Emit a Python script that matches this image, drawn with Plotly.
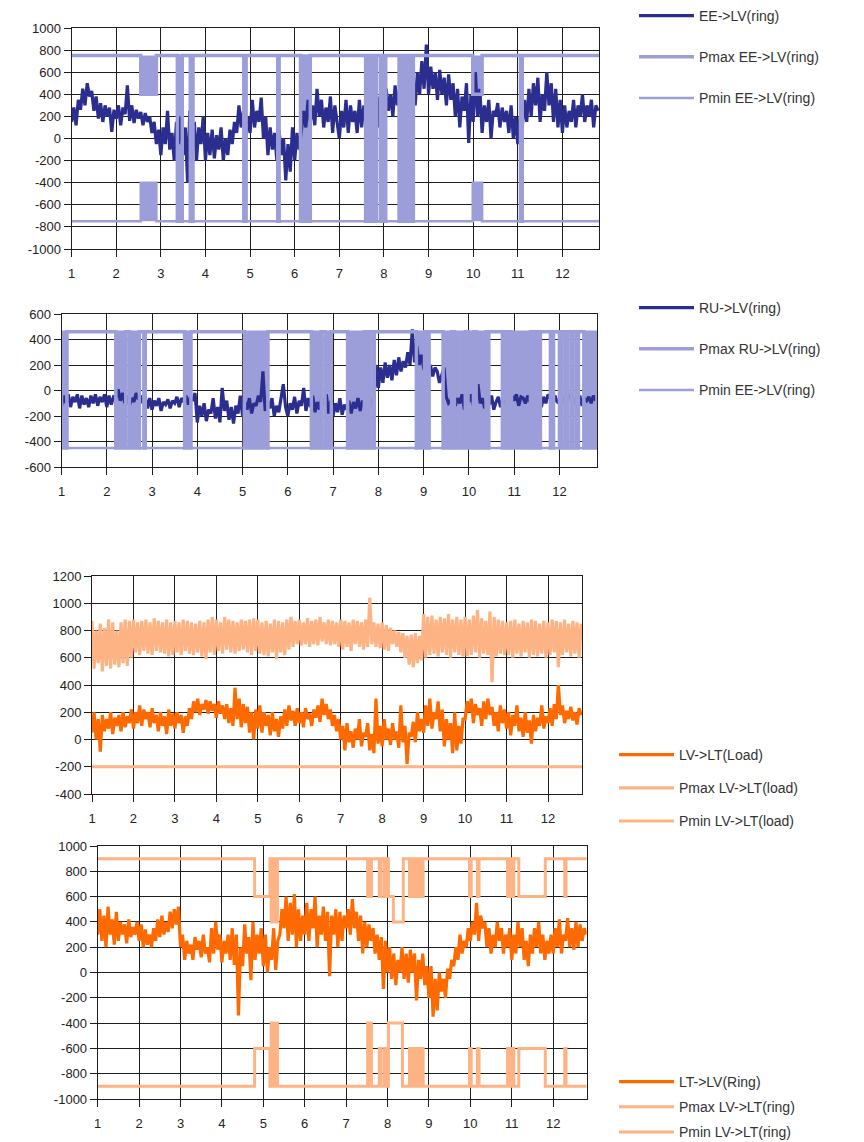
import numpy as np
import plotly.graph_objects as go

# ---------------- DATA ----------------
STEP = 0.05  # sampling interval of the noisy series (units on x)

# Panel 1: EE->LV (ring)
ee_lv = [
    150, 280, 120, 350, 260, 450, 300, 500, 380, 430, 250, 380, 180, 320, 150, 300, 200, 280, 60, 260,
    180, 300, 120, 280, 220, 480, 160, 300, 140, 260, 180, 240, 120, 230, 150, 200, 50, 150, -50, 80,
    -150, 100, -50, 250, -100, 50, -200, 150, -50, 200, -150, 100, -400, 250, -100, 150, -200, 100, -50, 200,
    -200, 50, -150, 80, -180, 30, -100, 100, -200, 0, -150, 80, -50, 150, 50, 300, 100, 250, 0, 200,
    50, 350, 100, 250, 150, 370, 0, 200, -150, 100, -100, 50, -200, 80, -150, 0, -380, -50, -300, 100,
    -200, 50, -100, 100, 250, 100, 350, 150, 300, 120, 450, 200, 350, 100, 280, 150, 380, 50, 300, 150,
    0, 250, 100, 350, 50, 300, 150, 250, 50, 350, 100, 300, 150, 400, 120, 300, 200, 380, 100, 350,
    200, 450, 250, 400, 200, 480, 300, 450, 250, 420, 350, 500, 400, 550, 300, 600, 400, 700, 450, 850,
    400, 650, 450, 600, 350, 620, 400, 550, 300, 580, 350, 500, 200, 450, 100, 380, 250, 500, -40, 400,
    150, 600, 200, 450, 50, 300, 150, 350, 0, 250, 200, 320, 100, 280, 150, 250, 50, 300, 0, 200,
    -50, 200, 100, 350, 150, 450, 200, 500, 300, 550, 150, 400, 250, 600, 300, 500, 150, 450, 100, 350,
    50, 300, 100, 250, 150, 350, 100, 300, 200, 400, 150, 300, 200, 350, 100, 300, 250,
]
# Limit toggling intervals for panel 1 (start, end, Pmax level inside, Pmin level inside)
p1_lim_start = [2.55, 3.37, 3.66, 4.86, 5.62, 6.13, 7.59, 7.65, 7.72, 7.80, 7.92, 8.00, 8.34, 8.42, 8.50, 8.62, 9.99, 11.06]
p1_lim_end = [2.90, 3.48, 3.72, 4.91, 5.65, 6.35, 7.62, 7.68, 7.76, 7.83, 7.95, 8.04, 8.37, 8.45, 8.56, 8.66, 10.20, 11.10]
p1_pmax_in = [400, -750, -750, -750, -750, -750, -750, -750, -750, -750, -750, -750, -750, -750, -750, -750, 400, -750]
p1_pmin_in = [-400, 750, 750, 750, 750, 750, 750, 750, 750, 750, 750, 750, 750, 750, 750, 750, -400, 750]
p1_pmax, p1_pmin = 750, -750

# Panel 2: RU->LV (ring)
ru_lv = [
    -120, -40, -100, -30, -130, -50, -90, -30, -140, -40, -110, -60, -130, -40, -100, -30, -120, -50, -90, -30,
    -130, -40, -110, -50, -60, 10, -80, -20, -100, -40, -120, -60, -90, -20, -70, -40, -100, -50, -140, -60,
    -150, -80, -120, -60, -160, -90, -110, -70, -140, -80, -100, -50, -130, -60, -90, -40, -110, -50, -80, -20,
    -250, -120, -200, -100, -240, -150, -180, -60, -220, -130, -250, 20, -160, -80, -230, -130, -260, -120, -180, -40,
    -200, -90, -150, -60, -180, -100, -120, -40, -90, 150, -160, -80, -140, -60, -200, -120, -170, -50, 50, -130,
    -200, -100, -150, -50, -180, -80, -120, 20, -160, -60, -130, -40, -170, -90, -150, -60, -120, -30, -180, -80,
    -200, -100, -170, -60, -190, -110, -150, -80, -180, -90, -140, -60, -160, -80, -120, -50, -150, -60, -90, 200,
    20, 180, 60, 220, 100, 200, 80, 240, 120, 260, 150, 230, 180, 300, 200, 480, 220, 350, 200, 280,
    180, 120, 140, 200, 110, 180, 150, 60, 120, 180, -50, -100, -80, -30, -120, -60, -100, -30, -150, -60,
    -90, -30, -120, -50, 50, -100, -60, -140, -70, -110, -40, -150, -90, -50, -130, -70, -100, -60, -120, -40,
    -80, -30, -120, -50, -60, -100, -40, -90, -30, 150, -80, -20, -130, -50, -100, -30, -60, -120, -40, -90,
    -100, -40, -70, -120, -50, -30, -110, -60, -90, -40, -120, -60, -80, -50, -100, -40, -80,
]
p2_lim_start = [1.00, 2.20, 2.50, 2.82, 3.72, 5.04, 6.52, 6.82, 7.32, 7.74, 7.88, 8.84, 9.08, 9.43, 9.68, 9.98,
                10.16, 10.40, 10.74, 10.86, 10.94, 11.43, 11.54, 11.80, 12.00, 12.14, 12.26, 12.38, 12.54]
p2_lim_end = [1.12, 2.42, 2.72, 2.85, 3.86, 5.56, 6.74, 6.96, 7.69, 7.80, 7.91, 9.02, 9.12, 9.62, 9.92, 10.10,
              10.38, 10.44, 10.82, 10.90, 11.36, 11.50, 11.58, 11.87, 12.06, 12.18, 12.30, 12.42, 12.83]
p2_pmax, p2_pmin = 460, -450

# Panel 3: LV->LT (Load)
lv_lt_load = [
    50, 200, 0, 150, -90, 180, 60, 150, 80, 200, 40, 160, 100, 180, 60, 200, 90, 170, 120, 220,
    80, 200, 120, 250, 100, 220, 150, 200, 90, 230, 120, 180, 60, 200, 100, 170, 40, 220, 100, 190,
    80, 200, 120, 180, 50, 170, 100, 230, 150, 280, 200, 300, 180, 260, 220, 290, 190, 280, 210, 260,
    160, 280, 190, 250, 150, 260, 120, 230, 100, 380, 150, 300, 90, 260, 120, 240, 50, 200, 0, 220,
    80, 250, 50, 200, 100, 180, 30, 200, 60, 150, 20, 170, 80, 220, 100, 250, 140, 210, 100, 230,
    120, 200, 90, 230, 150, 190, 100, 220, 160, 250, 130, 300, 180, 260, 150, 220, 100, 180, 60, 150,
    0, 100, -80, 120, -20, 60, -60, 80, 0, 150, -50, 50, 20, 120, -80, 40, -100, 300, -30, 100,
    -50, 150, 0, 80, -40, 120, 0, 60, -60, 250, -20, 100, -180, 50, 20, 130, -20, 200, 60, 150,
    50, 250, 100, 300, 80, 200, 150, 280, 60, 220, -50, 150, 0, 120, -100, 200, -80, 100, -30, 150,
    150, 280, 200, 300, 120, 260, 180, 230, 100, 280, 150, 300, 180, 240, 100, 200, 60, 250, 120, 220,
    80, 200, 30, 180, 100, 250, 60, 160, 20, 200, 50, 140, -30, 180, 60, 160, 100, 250, 80, 170,
    120, 230, 100, 260, 150, 400, 180, 250, 120, 210, 150, 240, 140, 200, 110, 230, 180,
]
pmax_lv_lt_load = [
    870, 520, 800, 560, 850, 500, 820, 540, 880, 520, 860, 550, 800, 530, 860, 560, 880, 540, 870, 600,
    880, 640, 860, 620, 870, 650, 880, 630, 860, 620, 890, 650, 870, 640, 860, 630, 880, 610, 860, 620,
    870, 640, 860, 620, 880, 650, 870, 630, 860, 620, 850, 640, 870, 610, 860, 590, 880, 640, 900, 620,
    880, 650, 860, 630, 900, 660, 880, 640, 870, 630, 860, 650, 880, 660, 870, 640, 880, 620, 890, 650,
    880, 630, 860, 620, 870, 610, 850, 640, 880, 590, 870, 640, 860, 620, 880, 660, 900, 680, 870, 700,
    880, 690, 860, 700, 890, 680, 870, 700, 880, 690, 900, 720, 860, 700, 880, 690, 870, 700, 860, 680,
    880, 660, 870, 680, 860, 650, 880, 700, 870, 680, 860, 660, 880, 680, 1040, 700, 860, 680, 850, 670,
    860, 660, 840, 650, 820, 700, 800, 680, 790, 640, 780, 600, 760, 550, 770, 530, 780, 560, 760, 580,
    920, 600, 900, 620, 910, 630, 880, 610, 900, 640, 890, 620, 920, 600, 880, 640, 900, 620, 880, 610,
    900, 610, 880, 620, 910, 640, 950, 600, 890, 630, 870, 620, 940, 420, 900, 610, 880, 630, 870, 620,
    860, 620, 870, 600, 880, 630, 850, 610, 870, 640, 860, 600, 880, 620, 870, 610, 850, 630, 870, 600,
    860, 620, 880, 640, 870, 530, 860, 620, 880, 640, 850, 610, 870, 630, 860, 600, 850,
]
pmin_lv_lt_load_t = [1.0, 12.82]
pmin_lv_lt_load = [-200, -200]

# Panel 4: LT->LV (Ring)
lt_lv_ring = [
    300, 500, 250, 450, 200, 520, 300, 420, 220, 480, 250, 400, 300, 380, 230, 420, 280, 360, 300, 400,
    250, 380, 200, 340, 220, 300, 200, 350, 250, 420, 280, 450, 300, 400, 320, 480, 350, 500, 380, 520,
    200, 300, 100, 250, 150, 220, 100, 280, 180, 250, 120, 300, 150, 200, 80, 350, 150, 400, 180, 300,
    80, 250, 150, 300, 100, 350, 60, 300, -340, 200, 50, 380, 150, 280, -60, 400, 100, 300, 150, 350,
    50, 300, 0, 200, 100, 350, 20, 250, 300, 500, 350, 600, 250, 550, 300, 620, 200, 500, 250, 450,
    300, 550, 250, 500, 350, 600, 200, 450, 300, 520, 250, 480, -30, 450, 300, 500, 200, 480, 250, 450,
    350, 500, 300, 580, 350, 480, 250, 450, 150, 400, 200, 380, 250, 350, 150, 300, 100, 280, -130, 250,
    0, 200, -50, 150, -100, 100, 0, 200, -50, 150, -80, 180, 0, 150, -220, 100, -50, 150, -100, 50,
    -200, 50, -350, -50, -300, 0, -150, -50, -200, 30, -50, 100, 50, 200, 100, 300, 150, 250, 200, 350,
    250, 400, 300, 550, 250, 450, 350, 400, 200, 350, 150, 300, 200, 400, 250, 350, 150, 300, 200, 350,
    100, 300, 150, 400, 200, 350, 100, 250, 50, 300, 150, 350, 200, 400, 150, 300, 100, 250, 150, 300,
    150, 350, 200, 420, 150, 300, 250, 430, 200, 350, 180, 400, 200, 380, 250, 350, 300,
]
pmax_ring_t = [1.00, 4.79, 5.16, 5.19, 5.22, 5.25, 5.28, 5.31, 5.34, 7.52, 7.55, 7.58, 7.61, 7.80, 7.84, 7.92,
               7.96, 8.02, 8.14, 8.38, 8.53, 8.56, 8.62, 8.66, 8.72, 8.76, 8.82, 8.86, 9.98, 10.02, 10.17,
               10.21, 10.90, 10.95, 11.00, 11.05, 11.17, 11.81, 12.28, 12.31, 12.81]
pmax_ring_v = [900, 600, 900, 400, 900, 400, 900, 400, 900, 600, 900, 600, 900, 600, 900, 600,
               900, 600, 400, 900, 600, 900, 600, 900, 600, 900, 600, 900, 600, 900, 600,
               900, 600, 900, 600, 900, 600, 900, 600, 900, 900]
pmin_ring_t = [1.00, 4.79, 5.16, 5.19, 5.22, 5.25, 5.28, 5.31, 5.34, 7.52, 7.55, 7.58, 7.61, 7.80, 7.84, 7.92,
               7.96, 8.02, 8.36, 8.53, 8.56, 8.62, 8.66, 8.72, 8.76, 8.82, 8.86, 9.98, 10.02, 10.17,
               10.21, 10.90, 10.95, 11.00, 11.05, 11.17, 11.81, 12.28, 12.31, 12.81]
pmin_ring_v = [-900, -600, -900, -400, -900, -400, -900, -400, -900, -400, -900, -400, -900, -600, -900, -600,
               -900, -400, -900, -600, -900, -600, -900, -600, -900, -600, -900, -600, -900, -600,
               -900, -600, -900, -600, -900, -600, -900, -600, -900, -900]

x_ticks = list(range(1, 13))

# ---------------- STYLE ----------------
PAGE_W, PAGE_H = 864, 1142
OFF = 8  # the page body margin that the browser adds around the figure
W, H = PAGE_W - OFF, PAGE_H - OFF
NAVY = "#2B2E8E"
LAV = "#9C9ED9"
ORANGE = "#FF6A00"
LORANGE = "#FDB383"
FONT = "Liberation Sans, Arial, sans-serif"
MAIN_W = 3.2


def tx(vals):
    return [1 + STEP * i for i in range(len(vals))]


def steps(x0, x1, base, starts, ends, levels):
    t, v = [x0], [base]
    for s, e, lv in zip(starts, ends, levels):
        t += [s, e]
        v += [lv, base]
    t.append(x1)
    v.append(base)
    return t, v


fig = go.Figure()

# ---- Panel 1 ----
fig.add_trace(go.Scatter(x=tx(ee_lv), y=ee_lv, mode="lines", line=dict(color=NAVY, width=MAIN_W),
                         name="EE->LV(ring)", legend="legend", legendgroup="a1", xaxis="x", yaxis="y"))
s, e = np.array(p1_lim_start), np.array(p1_lim_end)
pin, nin = np.array(p1_pmax_in), np.array(p1_pmin_in)
fig.add_trace(go.Bar(x=(s + e) / 2, width=e - s, base=pin, y=p1_pmax - pin, marker=dict(color=LAV, line_width=0),
                     showlegend=False, hoverinfo="skip", xaxis="x", yaxis="y"))
fig.add_trace(go.Bar(x=(s + e) / 2, width=e - s, base=p1_pmin, y=nin - p1_pmin, marker=dict(color=LAV, line_width=0),
                     showlegend=False, hoverinfo="skip", xaxis="x", yaxis="y"))
t, v = steps(1.0, 12.82, p1_pmax, p1_lim_start, p1_lim_end, p1_pmax_in)
fig.add_trace(go.Scatter(x=t, y=v, mode="lines", line=dict(color=LAV, width=3.5, shape="hv"),
                         name="Pmax EE->LV(ring)", legend="legend", legendgroup="b1", xaxis="x", yaxis="y"))
t, v = steps(1.0, 12.82, p1_pmin, p1_lim_start, p1_lim_end, p1_pmin_in)
fig.add_trace(go.Scatter(x=t, y=v, mode="lines", line=dict(color=LAV, width=2.5, shape="hv"),
                         name="Pmin EE->LV(ring)", legend="legend", legendgroup="c1", xaxis="x", yaxis="y"))

# ---- Panel 2 ----
fig.add_trace(go.Scatter(x=tx(ru_lv), y=ru_lv, mode="lines", line=dict(color=NAVY, width=MAIN_W),
                         name="RU->LV(ring)", legend="legend2", legendgroup="a2", xaxis="x2", yaxis="y2"))
s, e = np.array(p2_lim_start), np.array(p2_lim_end)
fig.add_trace(go.Bar(x=(s + e) / 2, width=e - s, base=p2_pmin, y=[p2_pmax - p2_pmin] * len(s),
                     marker=dict(color=LAV, line_width=0), showlegend=False, hoverinfo="skip",
                     xaxis="x2", yaxis="y2"))
t, v = steps(1.0, 12.83, p2_pmax, p2_lim_start, p2_lim_end, [p2_pmin] * len(s))
fig.add_trace(go.Scatter(x=t, y=v, mode="lines", line=dict(color=LAV, width=3.5, shape="hv"),
                         name="Pmax RU->LV(ring)", legend="legend2", legendgroup="b2", xaxis="x2", yaxis="y2"))
t, v = steps(1.0, 12.83, p2_pmin, p2_lim_start, p2_lim_end, [p2_pmax] * len(s))
fig.add_trace(go.Scatter(x=t, y=v, mode="lines", line=dict(color=LAV, width=2.5, shape="hv"),
                         name="Pmin EE->LV(ring)", legend="legend2", legendgroup="c2", xaxis="x2", yaxis="y2"))

# ---- Panel 3 ----
fig.add_trace(go.Scatter(x=tx(lv_lt_load), y=lv_lt_load, mode="lines", line=dict(color=ORANGE, width=MAIN_W),
                         name="LV->LT(Load)", legend="legend3", legendgroup="a3", xaxis="x3", yaxis="y3"))
fig.add_trace(go.Scatter(x=tx(pmax_lv_lt_load), y=pmax_lv_lt_load, mode="lines", line=dict(color=LORANGE, width=3.2),
                         name="Pmax LV->LT(load)", legend="legend3", legendgroup="b3", xaxis="x3", yaxis="y3"))
fig.add_trace(go.Scatter(x=pmin_lv_lt_load_t, y=pmin_lv_lt_load, mode="lines", line=dict(color=LORANGE, width=3),
                         name="Pmin LV->LT(load)", legend="legend3", legendgroup="c3", xaxis="x3", yaxis="y3"))

# ---- Panel 4 ----
fig.add_trace(go.Scatter(x=tx(lt_lv_ring), y=lt_lv_ring, mode="lines", line=dict(color=ORANGE, width=MAIN_W),
                         name="LT->LV(Ring)", legend="legend4", legendgroup="a4", xaxis="x4", yaxis="y4"))
fig.add_trace(go.Scatter(x=pmax_ring_t, y=pmax_ring_v, mode="lines", line=dict(color=LORANGE, width=3, shape="hv"),
                         name="Pmax LV->LT(ring)", legend="legend4", legendgroup="b4", xaxis="x4", yaxis="y4"))
fig.add_trace(go.Scatter(x=pmin_ring_t, y=pmin_ring_v, mode="lines", line=dict(color=LORANGE, width=3, shape="hv"),
                         name="Pmin LV->LT(ring)", legend="legend4", legendgroup="c4", xaxis="x4", yaxis="y4"))


# ---------------- LAYOUT (positions given in page pixels) ----------------
def dx(l, r):
    return [(l - OFF) / W, (r - OFF) / W]


def dy(top, bottom):
    return [1 - (bottom - OFF) / H, 1 - (top - OFF) / H]


def lx(px):
    return (px - OFF) / W


def ly(py):
    return 1 - (py - OFF) / H


axis_common = dict(showgrid=True, gridcolor="#1E1E1E", gridwidth=1, showline=True, linecolor="#1E1E1E",
                   linewidth=1, mirror=True, ticks="outside", ticklen=7, tickcolor="#1E1E1E", zeroline=False,
                   tickfont=dict(family=FONT, size=13, color="#222"), fixedrange=True)

panels = [
    dict(xd=dx(71.6, 599), xr=[1, 12.82], yd=dy(28, 249), yr=[-1000, 1000], yt=list(range(-1000, 1001, 200))),
    dict(xd=dx(61.5, 597), xr=[1, 12.83], yd=dy(314, 467), yr=[-600, 600], yt=list(range(-600, 601, 200))),
    dict(xd=dx(92, 582), xr=[1, 12.82], yd=dy(576, 794), yr=[-400, 1200], yt=list(range(-400, 1201, 200))),
    dict(xd=dx(97.7, 586.7), xr=[1, 12.81], yd=dy(846, 1099), yr=[-1000, 1000], yt=list(range(-1000, 1001, 200))),
]

layout = dict(width=W, height=H, margin=dict(l=0, r=0, t=0, b=0, autoexpand=False), paper_bgcolor="white",
              plot_bgcolor="white", barmode="overlay", font=dict(family=FONT, color="#222"))
for i, p in enumerate(panels, start=1):
    suf = "" if i == 1 else str(i)
    layout["xaxis" + suf] = dict(axis_common, domain=p["xd"], range=p["xr"], tickvals=x_ticks,
                                 ticktext=[str(k) for k in x_ticks], anchor="y" + suf, ticklabelstandoff=5)
    layout["yaxis" + suf] = dict(axis_common, domain=p["yd"], range=p["yr"], tickvals=p["yt"],
                                 ticktext=[str(k) for k in p["yt"]], anchor="x" + suf)

leg_common = dict(xanchor="left", yanchor="top", bgcolor="rgba(0,0,0,0)", itemwidth=55,
                  font=dict(family=FONT, size=14, color="#333"), traceorder="grouped")
layout["legend"] = dict(leg_common, x=lx(634), y=ly(0), tracegroupgap=20)
layout["legend2"] = dict(leg_common, x=lx(634), y=ly(292), tracegroupgap=20)
layout["legend3"] = dict(leg_common, x=lx(614), y=ly(739), tracegroupgap=12)
layout["legend4"] = dict(leg_common, x=lx(614), y=ly(1066), tracegroupgap=4)

fig.update_layout(**layout)
fig.write_html("out.html")
